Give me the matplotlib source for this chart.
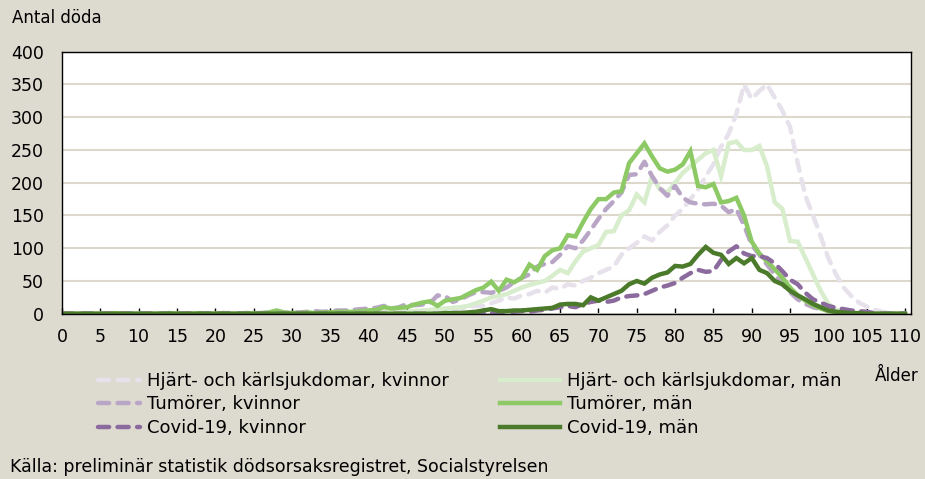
import numpy as np
import matplotlib.pyplot as plt

# Ålder 0..110
ages = np.arange(0, 111)

# Hjärt- och kärlsjukdomar, kvinnor
heart_k = [0, 0, 0, 0, 0, 0, 0, 0, 0, 0,
           0, 0, 0, 0, 0, 0, 0, 0, 0, 0,
           0, 0, 0, 0, 0, 0, 0, 0, 0, 0,
           0, 0, 1, 0, 1, 1, 1, 1, 1, 1,
           1, 1, 2, 2, 2, 3, 3, 4, 4, 5,
           5, 7, 8, 10, 12, 12, 16, 20, 25, 23,
           28, 30, 35, 32, 40, 38, 45, 43, 50, 55,
           62, 67, 72, 90, 100, 108, 118, 112, 125, 135,
           150, 160, 175, 190, 210, 228, 255, 275, 305, 350,
           328, 340, 350, 330, 310, 285, 230, 180, 150, 118,
           85, 60, 40, 27, 17, 11, 6, 3, 1, 0, 0]

# Hjärt- och kärlsjukdomar, män
heart_m = [0, 0, 0, 0, 0, 0, 0, 0, 0, 0,
           0, 0, 0, 0, 0, 0, 0, 0, 0, 0,
           0, 0, 0, 0, 0, 0, 0, 0, 0, 0,
           0, 0, 0, 1, 1, 1, 1, 1, 1, 2,
           2, 2, 2, 2, 3, 3, 4, 5, 6, 7,
           8, 9, 10, 12, 16, 20, 25, 27, 30, 35,
           40, 44, 47, 50, 58, 67, 62, 80, 95, 100,
           105, 125, 126, 150, 158, 182, 170, 210, 190, 185,
           200, 215, 225, 235, 245, 250, 210, 260, 263, 250,
           250, 256, 225, 170, 160, 111, 110, 85, 60, 35,
           15, 6, 3, 1, 0, 0, 0, 0, 0, 0, 0]

# Tumörer, kvinnor
tumor_k = [0, 0, 0, 0, 0, 0, 0, 1, 0, 0,
           0, 0, 0, 0, 1, 0, 0, 1, 0, 1,
           0, 1, 1, 0, 1, 1, 1, 1, 2, 1,
           2, 2, 3, 4, 3, 4, 5, 5, 6, 7,
           8, 9, 12, 8, 10, 15, 13, 14, 16, 28,
           27, 18, 22, 28, 33, 33, 32, 35, 40, 48,
           55, 60, 72, 76, 79, 90, 103, 100, 112, 128,
           145, 160, 172, 185, 212, 213, 232, 210, 192, 180,
           195, 177, 170, 168, 167, 168, 165, 155, 160, 135,
           105, 90, 75, 60, 45, 33, 22, 15, 10, 7,
           5, 3, 2, 1, 0, 0, 0, 0, 0, 0, 0]

# Tumörer, män
tumor_m = [0, 0, 0, 0, 0, 0, 0, 1, 0, 0,
           0, 0, 0, 0, 1, 0, 0, 0, 1, 0,
           0, 1, 0, 0, 1, 0, 1, 2, 5, 2,
           1, 1, 2, 1, 2, 2, 3, 3, 3, 4,
           5, 6, 10, 8, 9, 10, 14, 17, 19, 12,
           20, 22, 24, 30, 36, 40, 49, 35, 52, 48,
           55, 75, 67, 88, 97, 100, 120, 118, 140, 160,
           175, 175, 185, 187, 230, 245, 260, 240, 222, 217,
           220, 228, 248, 195, 193, 198, 170, 172, 177, 150,
           110, 92, 80, 68, 55, 40, 28, 20, 13, 8,
           4, 2, 1, 0, 0, 0, 0, 0, 0, 0, 0]

# Covid-19, kvinnor
covid_k = [0] * 50 + [
           0, 1, 1, 1, 2, 2, 1, 2, 3, 3,
           4, 3, 5, 6, 8, 10, 12, 10, 15, 18,
           20, 18, 20, 25, 27, 28, 30, 35, 40, 43,
           47, 55, 62, 67, 64, 65, 82, 95, 103, 92,
           88, 88, 85, 77, 65, 52, 45, 32, 22, 17,
           12, 9, 7, 5, 4, 3, 1, 0, 0, 0, 0]

# Covid-19, män
covid_m = [0] * 50 + [
           1, 1, 1, 2, 3, 5, 7, 4, 4, 5,
           5, 6, 7, 8, 9, 14, 15, 15, 13, 25,
           20, 25, 30, 35, 45, 50, 46, 55, 60, 63,
           73, 72, 76, 90, 102, 93, 90, 76, 85, 77,
           85, 67, 62, 50, 45, 35, 28, 22, 15, 10,
           5, 3, 2, 1, 1, 0, 0, 0, 0, 0, 0]

bg = '#DDDAD0'
plt.rcParams['font.family'] = 'DejaVu Sans'

fig = plt.figure(figsize=(9.25, 4.79), dpi=100, facecolor=bg)
ax = fig.add_axes([0.067, 0.345, 0.918, 0.547])
ax.set_facecolor('white')

lw = 3.2
dash = dict(linestyle=(0, (2.5, 1.9)), dash_capstyle='round')
series = [
    (heart_k, '#E6E1EB', dash, 'Hjärt- och kärlsjukdomar, kvinnor'),
    (heart_m, '#D7EDCC', {}, 'Hjärt- och kärlsjukdomar, män'),
    (tumor_k, '#B9A6C7', dash, 'Tumörer, kvinnor'),
    (tumor_m, '#8DC965', {}, 'Tumörer, män'),
    (covid_k, '#8B6A9D', dash, 'Covid-19, kvinnor'),
    (covid_m, '#4A7A2A', {}, 'Covid-19, män'),
]
handles = []
for vals, col, style, lab in series:
    ln, = ax.plot(ages, vals, color=col, lw=lw, solid_joinstyle='miter', label=lab, **style)
    handles.append(ln)

ax.set_xlim(0, 110.8)
ax.set_ylim(0, 400)
ax.set_xticks(np.arange(0, 111, 5))
ax.set_yticks(np.arange(0, 401, 50))
ax.tick_params(axis='x', direction='in', length=4, width=1, labelsize=12.5, pad=10.5)
ax.tick_params(axis='y', length=0, labelsize=12.5, pad=13)
ax.grid(axis='y', color='#DCD9CC', lw=1.5)
ax.set_axisbelow(True)
for s in ax.spines.values():
    s.set_color('black')
    s.set_linewidth(1.0)

fig.text(12 / 925, 1 - 18 / 479, 'Antal döda', fontsize=12, va='center', ha='left')
fig.text(919 / 925, 1 - 376 / 479, 'Ålder', fontsize=12, va='center', ha='right')
fig.text(10 / 925, 1 - 467 / 479, 'Källa: preliminär statistik dödsorsaksregistret, Socialstyrelsen',
         fontsize=12.5, va='center', ha='left')

leg_kw = dict(loc='upper left', frameon=False, fontsize=13, handletextpad=0.4,
              labelspacing=0.3, borderaxespad=0, borderpad=0)
legk = fig.legend(handles[0::2], [s[3] for s in series[0::2]],
                  bbox_to_anchor=(98 / 925, 1 - 372 / 479), handlelength=2.3, **leg_kw)
legm = fig.legend(handles[1::2], [s[3] for s in series[1::2]],
                  bbox_to_anchor=(500 / 925, 1 - 372 / 479), handlelength=3.3, **leg_kw)

fig.savefig('out.png', dpi=100, facecolor=bg)
